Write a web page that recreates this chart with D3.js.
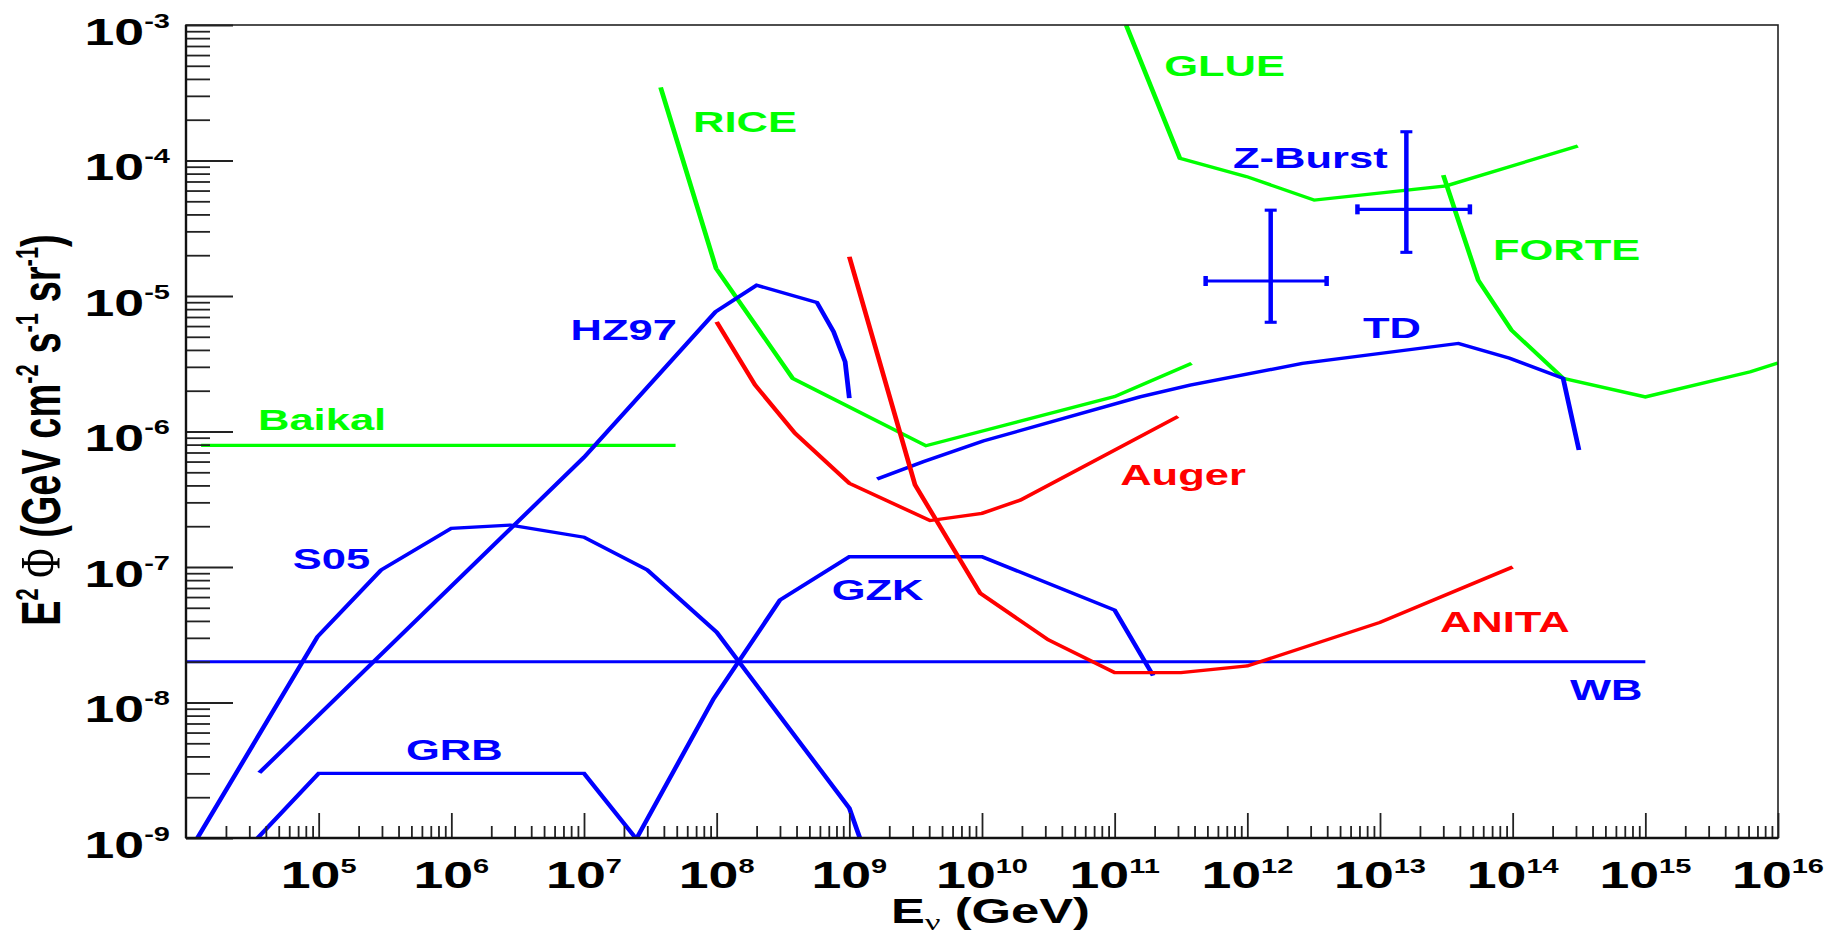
<!DOCTYPE html>
<html><head><meta charset="utf-8">
<script src="https://cdn.jsdelivr.net/npm/d3@7"></script>
<style>body{margin:0;background:#fff}svg{display:block}text{white-space:pre}</style>
</head><body>
<svg id="chart" width="1826" height="934"></svg>
<script>
// ---------- data (E in GeV, E^2 Phi in GeV cm^-2 s^-1 sr^-1) ----------
const xTickExponents = [5,6,7,8,9,10,11,12,13,14,15,16];
const yTickExponents = [-9,-8,-7,-6,-5,-4,-3];

const Baikal = [[1.3e4,7.9e-7],[4.9e7,7.9e-7]];
const RICE   = [[3.78e7,3.47e-4],[9.9e7,1.6e-5],[3.74e8,2.47e-6],[3.78e9,7.85e-7],[1e11,1.81e-6],[3.8e11,3.18e-6]];
const GLUE   = [[1.22e11,1e-3],[3.1e11,1.04e-4],[9.9e11,7.6e-5],[3.2e12,5.1e-5],[3.16e13,6.5e-5],[3.1e14,1.28e-4]];
const FORTE  = [[3.0e13,7.8e-5],[5.5e13,1.31e-5],[9.8e13,5.6e-6],[2.4e14,2.47e-6],[1e15,1.8e-6],[6.2e15,2.76e-6],[1e16,3.2e-6]];
const HZ97   = [[3.57e4,3.03e-9],[1e7,6.45e-7],[9.8e7,7.65e-6],[2.0e8,1.2e-5],[5.7e8,8.97e-6],[7.6e8,5.46e-6],[9.3e8,3.27e-6],[1e9,1.76e-6]];
const S05    = [[1.22e4,1e-9],[9.8e4,3.06e-8],[2.95e5,9.5e-8],[1e6,1.93e-7],[2.8e6,2.04e-7],[1e7,1.66e-7],[3e7,9.5e-8],[1e8,3.3e-8],[1e9,1.66e-9],[1.2e9,1e-9]];
const GRB    = [[3.47e4,1e-9],[1e5,3.0e-9],[1e7,3.0e-9],[2.45e7,1e-9]];
const GZK    = [[2.5e7,1e-9],[9.5e7,1.07e-8],[3e8,5.7e-8],[1e9,1.19e-7],[1e10,1.19e-7],[1e11,4.8e-8],[1.95e11,1.58e-8]];
const TD     = [[1.62e9,4.46e-7],[3.6e9,5.98e-7],[1.02e10,8.5e-7],[1.55e11,1.8e-6],[3.7e11,2.2e-6],[2.6e12,3.18e-6],[3.9e13,4.47e-6],[9.5e13,3.47e-6],[2.4e14,2.47e-6],[3.16e14,7.3e-7]];
const Auger  = [[1e8,6.45e-6],[1.95e8,2.2e-6],[3.9e8,9.7e-7],[1e9,4.15e-7],[4.06e9,2.2e-7],[1e10,2.49e-7],[1.95e10,3.12e-7],[3e11,1.29e-6]];
const ANITA  = [[1e9,1.95e-5],[3.13e9,4.03e-7],[9.7e9,6.4e-8],[3.16e10,2.9e-8],[1e11,1.66e-8],[3.16e11,1.66e-8],[1e12,1.86e-8],[1e13,3.9e-8],[1e14,1e-7]];
const WB     = [[1e4,2e-8],[1e15,2e-8]];
// Z-Burst points: [E, flux, Elow, Ehigh, fluxLow, fluxHigh]
const ZBurst = [[1.5e12,1.29e-5,4.85e11,3.96e12,6.4e-6,4.3e-5],[1.58e13,4.36e-5,6.76e12,4.76e13,2.1e-5,1.63e-4]];

// label anchors [E, flux]
const labelNames = ["RICE","GLUE","Z-Burst","FORTE","TD","HZ97","Baikal","Auger","S05","GZK","ANITA","WB","GRB"];
const labelAt    = [[6.64e7,1.63e-4],[2.36e11,4.21e-4],[7.8e11,8.75e-5],[7.1e13,1.85e-5],[7.45e12,4.88e-6],[5.02e7,4.73e-6],[3.49e4,1.03e-6],[1.1e11,4.03e-7],[6.37e4,9.6e-8],[7.36e8,5.7e-8],[2.83e13,3.33e-8],[2.7e14,1.04e-8],[4.55e5,3.77e-9]];

// ---------- styling ----------
const GREEN = "#00ff00", BLUE = "#0000ff", RED = "#ff0000";
const SX = 1.45;  // horizontal stretch of the original picture
const L = 186, R = 1778, T = 25, B = 838;
const FONT = "'Liberation Sans', Arial, Helvetica, sans-serif";

const curves = [
  {d: Baikal, c: GREEN}, {d: RICE, c: GREEN}, {d: GLUE, c: GREEN}, {d: FORTE, c: GREEN},
  {d: WB, c: BLUE, w: 2.9}, {d: HZ97, c: BLUE}, {d: S05, c: BLUE}, {d: GRB, c: BLUE},
  {d: GZK, c: BLUE}, {d: TD, c: BLUE}, {d: Auger, c: RED}, {d: ANITA, c: RED}
];
const labelColors = [GREEN,GREEN,BLUE,GREEN,BLUE,BLUE,GREEN,RED,BLUE,BLUE,RED,BLUE,BLUE];
const labelAnchor = ["start","start","start","start","start","end","start","start","start","start","start","start","start"];

const svg = d3.select("#chart");
const x = d3.scaleLog().domain([1e4,1e16]).range([L,R]);
const y = d3.scaleLog().domain([1e-9,1e-3]).range([B,T]);
const xs = d3.scaleLog().domain(x.domain()).range([L/SX, R/SX]);

svg.append("rect").attr("width",1826).attr("height",934).attr("fill","#fff");

// ---------- plot area (stretched coords) ----------
const defs = svg.append("defs");
defs.append("clipPath").attr("id","clip").append("rect")
  .attr("x",L/SX).attr("y",T).attr("width",(R-L)/SX).attr("height",B-T);

const plot = svg.append("g").attr("transform",`scale(${SX},1)`);
const pg = plot.append("g").attr("clip-path","url(#clip)");
const line = d3.line().x(d=>xs(d[0])).y(d=>y(d[1]));
pg.selectAll("path.curve").data(curves).join("path")
  .attr("class","curve").attr("d",c=>line(c.d)).attr("fill","none")
  .attr("stroke",c=>c.c).attr("stroke-width",c=>c.w||3.3);

// error crosses
const eb = pg.append("g").attr("stroke",BLUE).attr("stroke-width",3.1).attr("fill","none");
ZBurst.forEach(p=>{
  const [E,f,El,Eh,fl,fh] = p;
  eb.append("line").attr("x1",xs(E)).attr("x2",xs(E)).attr("y1",y(fl)).attr("y2",y(fh));
  eb.append("line").attr("x1",xs(El)).attr("x2",xs(Eh)).attr("y1",y(f)).attr("y2",y(f));
  [fl,fh].forEach(v=>eb.append("line").attr("x1",xs(E)-6/SX).attr("x2",xs(E)+6/SX).attr("y1",y(v)).attr("y2",y(v)));
  [El,Eh].forEach(v=>eb.append("line").attr("x1",xs(v)).attr("x2",xs(v)).attr("y1",y(f)-5).attr("y2",y(f)+5));
});

// ---------- axes ----------
const majorX = xTickExponents.map(e=>Math.pow(10,e));
const minorX = [];
for (let d=4; d<16; d++) for (let k=2;k<=9;k++) minorX.push(k*Math.pow(10,d));
const majorY = yTickExponents.map(e=>Math.pow(10,e));
const minorY = [];
for (let d=-9; d<-3; d++) for (let k=2;k<=9;k++) minorY.push(k*Math.pow(10,d));

function styleAxis(g){
  g.selectAll(".tick line").attr("stroke","#222").attr("stroke-width",1.8);
  g.select(".domain").remove();
  g.selectAll(".tick text").remove();
}
svg.append("g").attr("transform",`translate(0,${B})`)
  .call(d3.axisBottom(x).tickValues(majorX).tickSize(-25).tickSizeOuter(0).tickFormat("")).call(styleAxis);
svg.append("g").attr("transform",`translate(0,${B})`)
  .call(d3.axisBottom(x).tickValues(minorX).tickSize(-12).tickSizeOuter(0).tickFormat("")).call(styleAxis);
svg.append("g").attr("transform",`translate(${L},0)`)
  .call(d3.axisLeft(y).tickValues(majorY).tickSize(-47).tickSizeOuter(0).tickFormat("")).call(styleAxis);
svg.append("g").attr("transform",`translate(${L},0)`)
  .call(d3.axisLeft(y).tickValues(minorY).tickSize(-24).tickSizeOuter(0).tickFormat("")).call(styleAxis);

// frame
svg.append("rect").attr("x",L).attr("y",T).attr("width",R-L).attr("height",B-T)
  .attr("fill","none").attr("stroke","#222").attr("stroke-width",1.6);
svg.append("line").attr("x1",L).attr("x2",L).attr("y1",T).attr("y2",B).attr("stroke","#111").attr("stroke-width",2.4);
svg.append("line").attr("x1",L).attr("x2",R).attr("y1",B).attr("y2",B).attr("stroke","#111").attr("stroke-width",2.4);

// ---------- rich text helper ----------
function rich(tx, ty, parts, anchor, extra, color){
  const t = svg.append("text")
    .attr("transform",`translate(${tx},${ty}) scale(${SX},1)` + (extra||""))
    .attr("text-anchor",anchor).attr("font-family",FONT).attr("font-weight","bold")
    .attr("fill",color||"#000");
  let rise = 0;
  parts.forEach(p=>{
    const r = p.rise||0;
    const s = t.append("tspan").text(p.t).attr("font-size",p.size);
    if (r!==rise) s.attr("dy",-(r-rise));
    if (p.family) s.attr("font-family",p.family).attr("font-weight","normal");
    rise = r;
  });
  return t;
}

// tick labels
yTickExponents.forEach(e=>{
  rich(170, y(Math.pow(10,e))+19.5, [{t:"10",size:37},{t:String(e),size:20,rise:17}], "end");
});
xTickExponents.forEach(e=>{
  rich(x(Math.pow(10,e)), 888, [{t:"10",size:37},{t:String(e),size:20,rise:15}], "middle");
});

// axis titles
const SERIF = "'Liberation Serif','DejaVu Serif',serif";
rich(1090, 923, [{t:"E",size:35},{t:"\u03bd",size:24,rise:-7,family:SERIF},{t:" (GeV)",size:35}], "end");
rich(60, 430, [
  {t:"E",size:38},{t:"2",size:22,rise:15},{t:" ",size:38},{t:"\u03a6",size:40,family:SERIF},
  {t:" (GeV cm",size:38},{t:"-2",size:22,rise:15},{t:" s",size:38},{t:"-1",size:22,rise:15},
  {t:" sr",size:38},{t:"-1",size:22,rise:15},{t:")",size:38}
], "middle", " rotate(-90)");

// curve labels
labelNames.forEach((n,i)=>{
  rich(x(labelAt[i][0]), y(labelAt[i][1]), [{t:n,size:30}], labelAnchor[i], "", labelColors[i]);
});
</script>
</body></html>
